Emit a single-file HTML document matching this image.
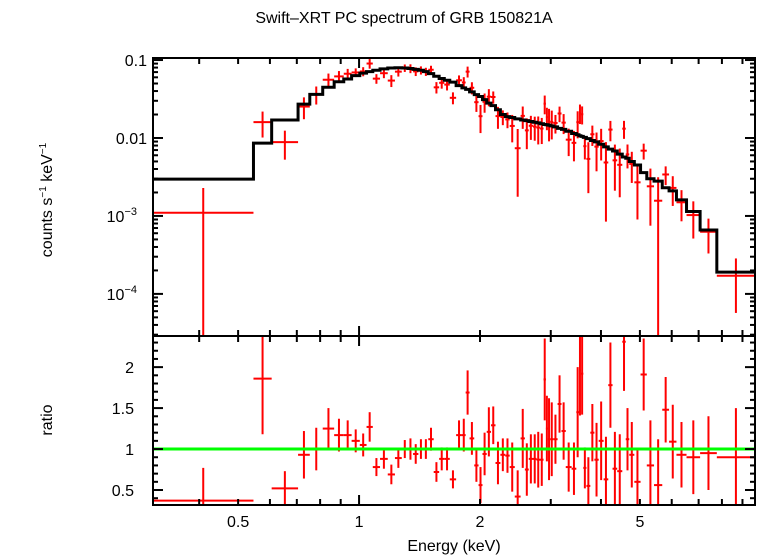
<!DOCTYPE html>
<html><head><meta charset="utf-8"><style>
html,body{margin:0;padding:0;background:#fff;}
svg{display:block;font-family:"Liberation Sans",sans-serif;}
</style></head><body>
<svg id="chart" width="758" height="556" viewBox="0 0 758 556" xmlns="http://www.w3.org/2000/svg">
<text x="404" y="23" font-size="16" text-anchor="middle">Swift–XRT PC spectrum of GRB 150821A</text>
<g id="topPanel"></g>
<g id="botPanel"></g>
<g id="axes"></g>
<text transform="translate(52,200) rotate(-90)" font-size="16" text-anchor="middle">counts s<tspan font-size="10" dy="-6">−1</tspan><tspan dy="6"> keV</tspan><tspan font-size="10" dy="-6">−1</tspan></text>
<text transform="translate(52,420) rotate(-90)" font-size="16" text-anchor="middle">ratio</text>
<text x="454" y="551" font-size="16" text-anchor="middle">Energy (keV)</text>
</svg>
<script>
// ---- data ----
const lowEdges = [0.307,0.546,0.606,0.705,0.754,0.812,0.867,0.916];
const centers = [0.935,0.982,1.027,1.061,1.103,1.153,1.205,1.252,1.303,1.342,
1.384,1.426,1.467,1.507,1.561,1.604,1.656,1.708,1.781,1.825,
1.859,1.909,1.961,2.006,2.051,2.106,2.154,2.218,2.278,2.345,
2.397,2.485,2.563,2.610,2.679,2.740,2.789,2.852,2.905,2.930,
2.971,3.010,3.078,3.162,3.219,3.320,3.442,3.504,3.550,3.583,
3.647,3.713,3.814,3.890,4.007,4.116,4.227,4.322,4.460,4.580,
4.641,4.768,4.919,5.121,5.283,5.564,5.805,6.016,6.318,6.752,7.382];
const lastBin = [7.77,9.67];
const model = [0.00297,0.00859,0.0170,0.0272,0.0363,0.0447,0.0527,
0.057,0.063,0.068,0.071,0.074,0.077,0.079,0.0797,0.079,0.078,
0.076,0.074,0.071,0.067,0.062,0.058,0.055,0.052,0.047,0.044,
0.042,0.039,0.036,0.034,0.031,0.028,0.026,0.023,0.020,0.0188,
0.0183,0.0176,0.0170,0.0167,0.0163,0.0159,0.0156,0.0152,0.0149,0.0148,
0.0146,0.0143,0.0139,0.0133,0.0129,0.0122,0.0114,0.0110,0.0107,0.0105,
0.0102,0.0098,0.0093,0.0089,0.0083,0.0077,0.0072,0.0068,0.0062,0.0057,
0.0055,0.0050,0.0045,0.0036,0.0030,0.0028,0.0023,0.0021,0.00161,0.00114,0.00066,
0.00019];
const ratio = [0.37,1.86,0.52,0.93,1.0,1.25,1.17,
1.17,1.10,1.05,1.27,0.78,0.88,0.69,0.89,1.0,1.0,
0.94,1.0,1.0,1.12,0.72,0.88,0.88,0.63,1.17,1.17,
1.69,1.13,0.80,0.56,0.94,1.21,1.29,0.83,0.93,0.92,
0.78,0.42,1.13,0.75,0.88,0.88,0.87,0.87,1.85,1.25,
1.12,1.12,1.12,1.55,1.22,0.78,0.76,1.45,1.96,1.92,
0.77,0.55,1.20,0.87,1.10,0.63,1.78,0.76,0.73,2.31,
1.12,0.93,0.60,1.91,0.80,0.56,1.48,1.09,0.93,0.90,0.95,
0.90];
const ratioErr = [0.40,0.68,0.21,0.29,0.26,0.25,0.20,
0.18,0.14,0.14,0.18,0.11,0.12,0.12,0.12,0.11,0.13,
0.12,0.12,0.12,0.14,0.12,0.14,0.14,0.11,0.18,0.20,
0.27,0.20,0.20,0.22,0.26,0.30,0.23,0.26,0.20,0.21,
0.30,0.32,0.36,0.32,0.30,0.30,0.34,0.32,0.50,0.40,
0.50,0.45,0.30,0.35,0.35,0.30,0.32,0.55,0.55,0.50,
0.25,0.35,0.35,0.45,0.48,0.52,0.52,0.45,0.45,0.60,
0.38,0.40,0.40,0.44,0.55,0.56,0.40,0.45,0.40,0.45,0.45,
0.60];
const xTickLabels = ["0.5","1","2","5"];
const xTickValues = [0.5,1,2,5];
const ratioTickLabels = ["0.5","1","1.5","2"];
const ratioTickValues = [0.5,1,1.5,2];

// ---- geometry ----
const L=153,R=755,T1=58,B1=336,T2=336,B2=505;
const xMin=0.307,xMax=9.67;
const yMin=-4.54,yMax=-0.974;
const rMin=0.317,rMax=2.38;
const X=e=>L+(Math.log10(e)-Math.log10(xMin))/(Math.log10(xMax)-Math.log10(xMin))*(R-L);
const Y=v=>{let l=Math.log10(Math.max(v,1e-9));return B1-(l-yMin)/(yMax-yMin)*(B1-T1);};
const YR=r=>B2-(r-rMin)/(rMax-rMin)*(B2-T2);
const NS="http://www.w3.org/2000/svg";
function mk(tag,attrs,parent){const e=document.createElementNS(NS,tag);for(const k in attrs)e.setAttribute(k,attrs[k]);parent.appendChild(e);return e;}

const bins=[];
for(let i=0;i<lowEdges.length-1;i++)bins.push([lowEdges[i],lowEdges[i+1]]);
for(let i=0;i<centers.length;i++){
  const lo=i===0?lowEdges[lowEdges.length-1]:Math.sqrt(centers[i-1]*centers[i]);
  const hi=i===centers.length-1?lastBin[0]:Math.sqrt(centers[i]*centers[i+1]);
  bins.push([lo,hi]);
}
bins.push(lastBin);

const gTop=document.getElementById('topPanel'),gBot=document.getElementById('botPanel'),axes=document.getElementById('axes');
const defs=mk('defs',{},document.getElementById('chart'));
const c1=mk('clipPath',{id:'c1'},defs);mk('rect',{x:L,y:T1,width:R-L,height:B1-T1},c1);
const c2=mk('clipPath',{id:'c2'},defs);mk('rect',{x:L,y:T2,width:R-L,height:B2-T2},c2);
gTop.setAttribute('clip-path','url(#c1)');gBot.setAttribute('clip-path','url(#c2)');

for(let i=0;i<bins.length;i++){
  const [lo,hi]=bins[i];const m=model[i]||0.001;const r=ratio[i]||1;const er=ratioErr[i]||0.3;
  const d=r*m, de=er*m, xc=X(Math.sqrt(lo*hi));
  const g=mk('g',{stroke:'#f00','stroke-width':2},gTop);
  
  
  mk('line',{x1:X(lo),x2:X(hi),y1:Y(d),y2:Y(d)},g);
  mk('line',{x1:xc,x2:xc,y1:Y(d+de),y2:d-de>0?Y(d-de):B1+5},g);
  const g2=mk('g',{stroke:'#f00','stroke-width':2},gBot);
  
  
  mk('line',{x1:X(lo),x2:X(hi),y1:YR(r),y2:YR(r)},g2);
  mk('line',{x1:xc,x2:xc,y1:YR(r+er),y2:YR(r-er)},g2);
}
let p='';
for(let i=0;i<bins.length;i++){const y=Y(model[i]);p+=(i===0?'M':'L')+X(bins[i][0])+','+y+'L'+X(bins[i][1])+','+y;}
const mp=mk('path',{d:p,fill:'none',stroke:'#000','stroke-width':3},gTop);


const ul=mk('line',{x1:L,x2:R,y1:YR(1),y2:YR(1),stroke:'#0f0','stroke-width':3},gBot);



for(const [t,b] of [[T1,B1],[T2,B2]]){
  const f=mk('rect',{x:L,y:t,width:R-L,height:b-t,fill:'none',stroke:'#000','stroke-width':2},axes);
  
  
}
const xt=[];for(let d of [0.1,1])for(let k=1;k<10;k++){const v=d*k;if(v>xMin&&v<xMax)xt.push(v);}
for(const v of xt){
  const x=X(v),len=(Math.abs(v-1)<1e-9)?10:6;
  for(const [t,b] of [[T1,B1],[T2,B2]]){
    mk('line',{x1:x,x2:x,y1:t,y2:t+len,stroke:'#000','stroke-width':2},axes);
    mk('line',{x1:x,x2:x,y1:b,y2:b-len,stroke:'#000','stroke-width':2},axes);
  }
}
xTickValues.forEach((v,i)=>{
  const t=mk('text',{x:X(v),y:527,'font-size':16,'text-anchor':'middle'},axes);t.textContent=xTickLabels[i];
  
  
});
for(let d=-5;d<=-1;d++)for(let k=1;k<10;k++){
  const v=k*Math.pow(10,d);const l=Math.log10(v);if(l<yMin||l>yMax)continue;
  const y=Y(v),len=k===1?10:5;
  mk('line',{x1:L,x2:L+len,y1:y,y2:y,stroke:'#000','stroke-width':2},axes);
  mk('line',{x1:R,x2:R-len,y1:y,y2:y,stroke:'#000','stroke-width':2},axes);
}
const yl=[[0.1,'0.1',null],[0.01,'0.01',null],[1e-3,'10','−3'],[1e-4,'10','−4']];
for(const [v,b,s] of yl){
  const t=mk('text',{x:s?137:147,y:Y(v)+6,'font-size':16,'text-anchor':'end'},axes);
  
  
  t.textContent=b;
  if(s){const ts=mk('tspan',{'font-size':11,dy:-7},t);ts.textContent=s;}
}
for(let k=4;k<=23;k++){
  const v=k/10,y=YR(v),len=(k%5===0)?10:5;
  mk('line',{x1:L,x2:L+len,y1:y,y2:y,stroke:'#000','stroke-width':2},axes);
  mk('line',{x1:R,x2:R-len,y1:y,y2:y,stroke:'#000','stroke-width':2},axes);
}
ratioTickValues.forEach((v,i)=>{
  const t=mk('text',{x:134,y:YR(v)+6,'font-size':16,'text-anchor':'end'},axes);t.textContent=ratioTickLabels[i];
  
  
});
</script>
</body></html>
